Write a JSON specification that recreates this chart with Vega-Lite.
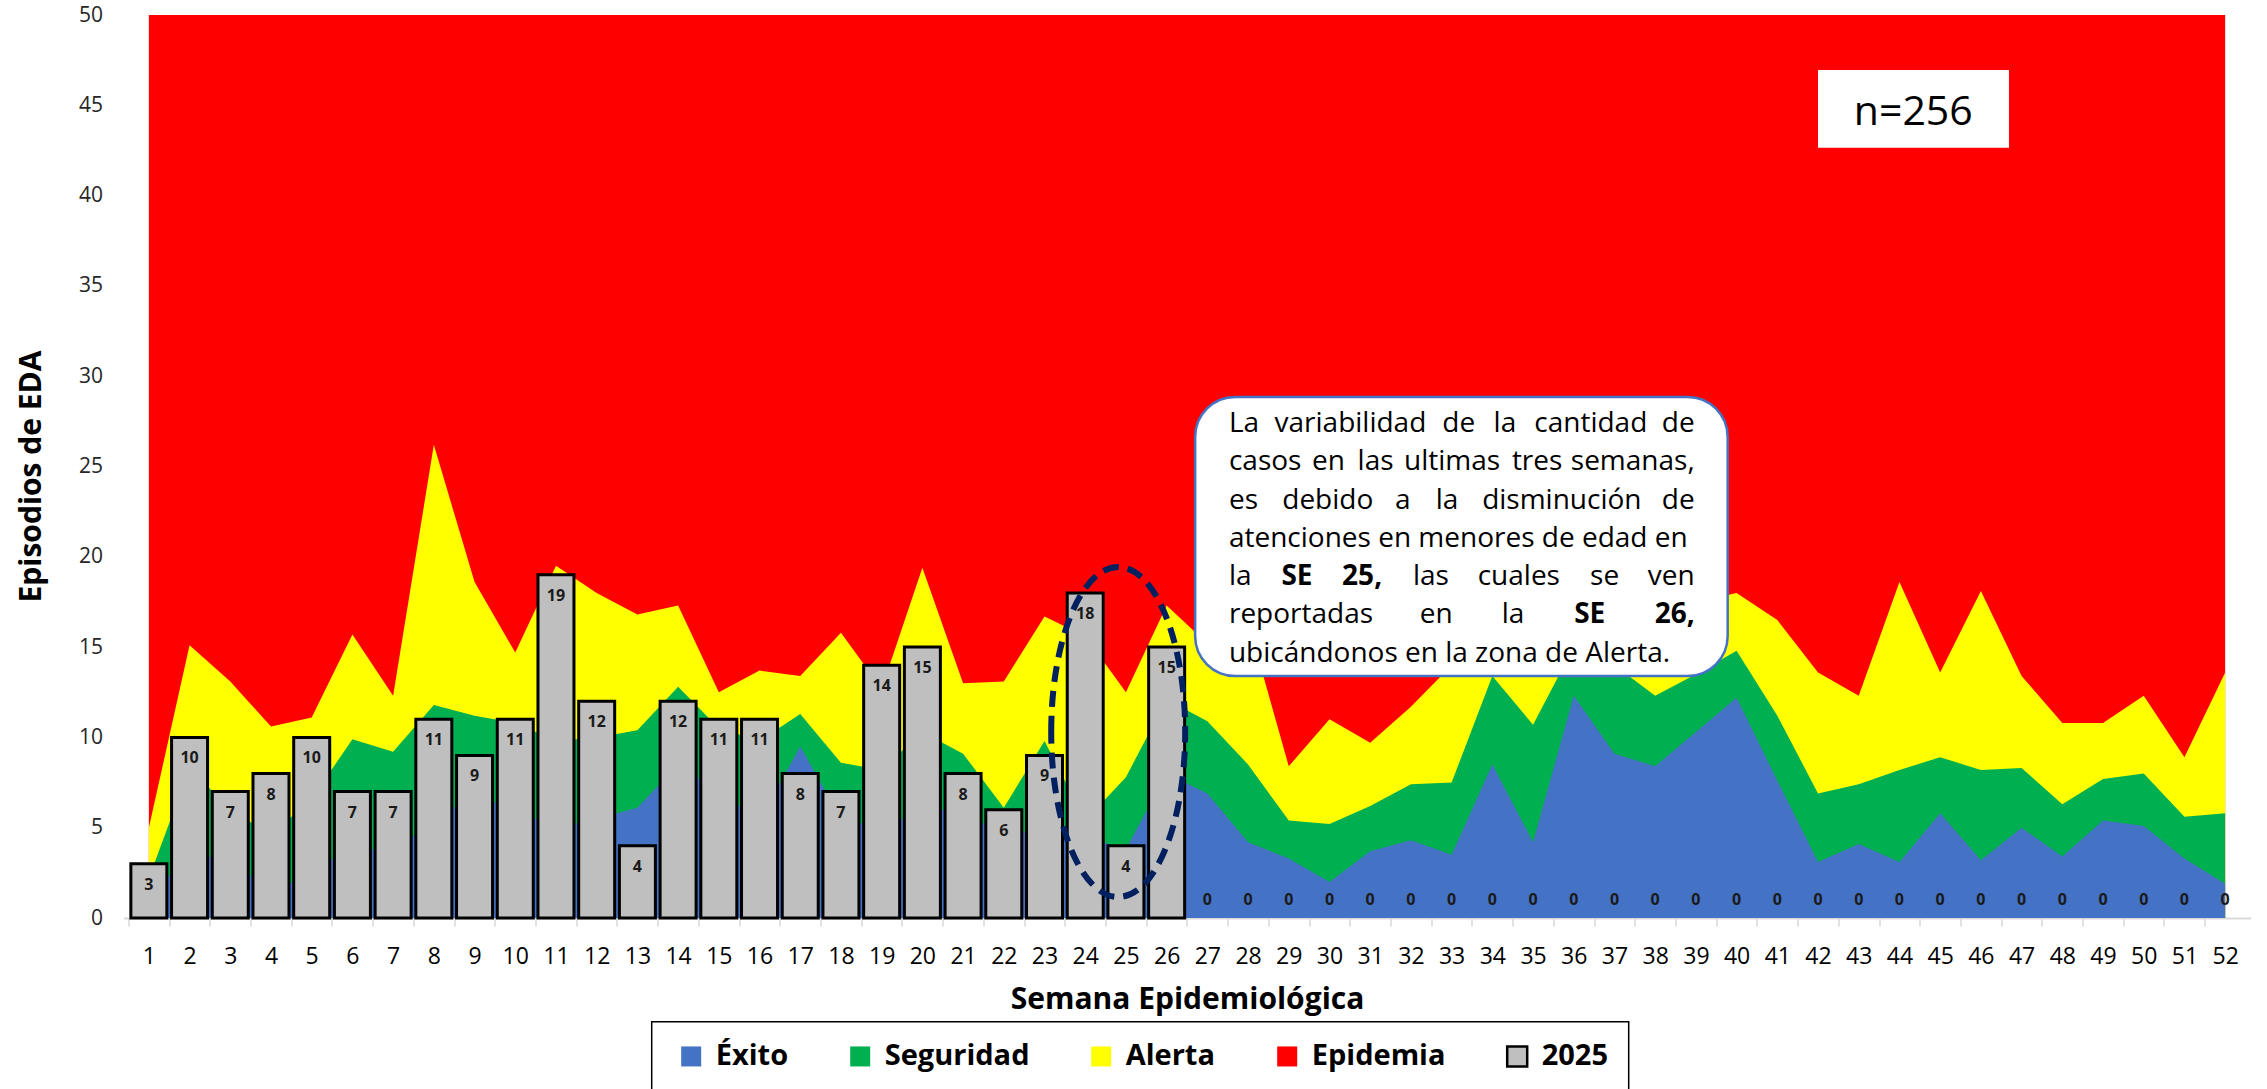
{
  "$schema": "https://vega.github.io/schema/vega-lite/v6.json",
  "width": 2127,
  "height": 903,
  "autosize": {"type": "none"},
  "padding": {"left": 123.5, "top": 15, "right": 16.5, "bottom": 171},
  "background": "white",
  "config": {
    "view": {"stroke": null},
    "font": "Open Sans",
    "axis": {"labelFont": "Open Sans", "titleFont": "Open Sans"},
    "legend": {"labelFont": "Open Sans", "titleFont": "Open Sans"},
    "text": {"fontSize": 28, "color": "black", "baseline": "alphabetic", "align": "left"}
  },
  "data": {
    "values": [
      {"semana": 1, "exito": 1.2, "seguridad": 2.2, "alerta": 5.0, "epidemia": 50, "casos": 3},
      {"semana": 2, "exito": 3.5, "seguridad": 8.3, "alerta": 15.1, "epidemia": 50, "casos": 10},
      {"semana": 3, "exito": 3.3, "seguridad": 6.0, "alerta": 13.1, "epidemia": 50, "casos": 7},
      {"semana": 4, "exito": 1.4, "seguridad": 4.6, "alerta": 10.6, "epidemia": 50, "casos": 8},
      {"semana": 5, "exito": 2.5, "seguridad": 6.6, "alerta": 11.1, "epidemia": 50, "casos": 10},
      {"semana": 6, "exito": 4.0, "seguridad": 9.9, "alerta": 15.7, "epidemia": 50, "casos": 7},
      {"semana": 7, "exito": 3.6, "seguridad": 9.2, "alerta": 12.3, "epidemia": 50, "casos": 7},
      {"semana": 8, "exito": 5.5, "seguridad": 11.8, "alerta": 26.2, "epidemia": 50, "casos": 11},
      {"semana": 9, "exito": 6.8, "seguridad": 11.2, "alerta": 18.6, "epidemia": 50, "casos": 9},
      {"semana": 10, "exito": 6.0, "seguridad": 10.8, "alerta": 14.7, "epidemia": 50, "casos": 11},
      {"semana": 11, "exito": 5.0, "seguridad": 9.8, "alerta": 19.5, "epidemia": 50, "casos": 19},
      {"semana": 12, "exito": 5.5, "seguridad": 10.0, "alerta": 18.0, "epidemia": 50, "casos": 12},
      {"semana": 13, "exito": 6.1, "seguridad": 10.4, "alerta": 16.8, "epidemia": 50, "casos": 4},
      {"semana": 14, "exito": 8.5, "seguridad": 12.8, "alerta": 17.3, "epidemia": 50, "casos": 12},
      {"semana": 15, "exito": 7.0, "seguridad": 10.5, "alerta": 12.5, "epidemia": 50, "casos": 11},
      {"semana": 16, "exito": 5.4, "seguridad": 9.8, "alerta": 13.7, "epidemia": 50, "casos": 11},
      {"semana": 17, "exito": 9.5, "seguridad": 11.3, "alerta": 13.4, "epidemia": 50, "casos": 8},
      {"semana": 18, "exito": 5.5, "seguridad": 8.6, "alerta": 15.8, "epidemia": 50, "casos": 7},
      {"semana": 19, "exito": 5.0, "seguridad": 8.2, "alerta": 12.7, "epidemia": 50, "casos": 14},
      {"semana": 20, "exito": 6.0, "seguridad": 10.3, "alerta": 19.4, "epidemia": 50, "casos": 15},
      {"semana": 21, "exito": 6.0, "seguridad": 9.1, "alerta": 13.0, "epidemia": 50, "casos": 8},
      {"semana": 22, "exito": 4.5, "seguridad": 6.1, "alerta": 13.1, "epidemia": 50, "casos": 6},
      {"semana": 23, "exito": 5.0, "seguridad": 9.8, "alerta": 16.7, "epidemia": 50, "casos": 9},
      {"semana": 24, "exito": 4.5, "seguridad": 5.4, "alerta": 15.6, "epidemia": 50, "casos": 18},
      {"semana": 25, "exito": 3.8, "seguridad": 7.8, "alerta": 12.5, "epidemia": 50, "casos": 4},
      {"semana": 26, "exito": 8.0, "seguridad": 12.1, "alerta": 17.3, "epidemia": 50, "casos": 15},
      {"semana": 27, "exito": 6.9, "seguridad": 10.9, "alerta": 15.2, "epidemia": 50, "casos": 0},
      {"semana": 28, "exito": 4.2, "seguridad": 8.5, "alerta": 16.4, "epidemia": 50, "casos": 0},
      {"semana": 29, "exito": 3.3, "seguridad": 5.4, "alerta": 8.4, "epidemia": 50, "casos": 0},
      {"semana": 30, "exito": 2.0, "seguridad": 5.2, "alerta": 11.0, "epidemia": 50, "casos": 0},
      {"semana": 31, "exito": 3.7, "seguridad": 6.2, "alerta": 9.7, "epidemia": 50, "casos": 0},
      {"semana": 32, "exito": 4.3, "seguridad": 7.4, "alerta": 11.7, "epidemia": 50, "casos": 0},
      {"semana": 33, "exito": 3.5, "seguridad": 7.5, "alerta": 14.0, "epidemia": 50, "casos": 0},
      {"semana": 34, "exito": 8.5, "seguridad": 13.4, "alerta": 17.0, "epidemia": 50, "casos": 0},
      {"semana": 35, "exito": 4.2, "seguridad": 10.7, "alerta": 15.0, "epidemia": 50, "casos": 0},
      {"semana": 36, "exito": 12.3, "seguridad": 15.0, "alerta": 19.0, "epidemia": 50, "casos": 0},
      {"semana": 37, "exito": 9.1, "seguridad": 14.0, "alerta": 18.0, "epidemia": 50, "casos": 0},
      {"semana": 38, "exito": 8.4, "seguridad": 12.3, "alerta": 16.5, "epidemia": 50, "casos": 0},
      {"semana": 39, "exito": 10.3, "seguridad": 13.5, "alerta": 17.5, "epidemia": 50, "casos": 0},
      {"semana": 40, "exito": 12.2, "seguridad": 14.8, "alerta": 18.0, "epidemia": 50, "casos": 0},
      {"semana": 41, "exito": 7.6, "seguridad": 11.2, "alerta": 16.5, "epidemia": 50, "casos": 0},
      {"semana": 42, "exito": 3.1, "seguridad": 6.9, "alerta": 13.6, "epidemia": 50, "casos": 0},
      {"semana": 43, "exito": 4.1, "seguridad": 7.4, "alerta": 12.3, "epidemia": 50, "casos": 0},
      {"semana": 44, "exito": 3.1, "seguridad": 8.2, "alerta": 18.6, "epidemia": 50, "casos": 0},
      {"semana": 45, "exito": 5.8, "seguridad": 8.9, "alerta": 13.6, "epidemia": 50, "casos": 0},
      {"semana": 46, "exito": 3.2, "seguridad": 8.2, "alerta": 18.1, "epidemia": 50, "casos": 0},
      {"semana": 47, "exito": 5.0, "seguridad": 8.3, "alerta": 13.4, "epidemia": 50, "casos": 0},
      {"semana": 48, "exito": 3.4, "seguridad": 6.3, "alerta": 10.8, "epidemia": 50, "casos": 0},
      {"semana": 49, "exito": 5.4, "seguridad": 7.7, "alerta": 10.8, "epidemia": 50, "casos": 0},
      {"semana": 50, "exito": 5.1, "seguridad": 8.0, "alerta": 12.3, "epidemia": 50, "casos": 0},
      {"semana": 51, "exito": 3.3, "seguridad": 5.6, "alerta": 8.9, "epidemia": 50, "casos": 0},
      {"semana": 52, "exito": 1.9, "seguridad": 5.8, "alerta": 13.6, "epidemia": 50, "casos": 0}
    ]
  },
  "layer": [
    {
      "mark": {"type": "area", "interpolate": "linear"},
      "encoding": {
        "x": {
          "field": "semana", "type": "quantitative",
          "scale": {"domain": [0.5, 52.5], "nice": false, "zero": false},
          "title": "Semana Epidemiológica",
          "axis": {
            "values": [1,2,3,4,5,6,7,8,9,10,11,12,13,14,15,16,17,18,19,20,21,22,23,24,25,26,27,28,29,30,31,32,33,34,35,36,37,38,39,40,41,42,43,44,45,46,47,48,49,50,51,52],
            "grid": false,
            "tickOffset": -20.45, "labelOffset": 20.45,
            "tickColor": "#D9D9D9", "tickSize": 8, "tickWidth": 1.5,
            "domainColor": "#D9D9D9", "domainWidth": 2,
            "labelFontSize": 23, "labelColor": "black", "labelPadding": 19,
            "labelFlush": false, "labelOverlap": false,
            "titleFontSize": 30, "titleFontWeight": "bold", "titleColor": "black",
            "titleBaseline": "alphabetic", "titleY": 90
          }
        },
        "y": {
          "field": "epidemia", "type": "quantitative", "stack": null,
          "scale": {"domain": [0, 50], "nice": false},
          "title": "Episodios de EDA",
          "axis": {
            "values": [0,5,10,15,20,25,30,35,40,45,50],
            "grid": false, "ticks": false, "domain": false,
            "labelFontSize": 21, "labelColor": "#262626", "labelPadding": 21,
            "titleFontSize": 30, "titleFontWeight": "bold", "titleColor": "black",
            "titleX": -92, "titleY": 461, "titleAngle": -90,
            "titleBaseline": "middle", "titleAlign": "center"
          }
        },
        "fill": {
          "datum": "Epidemia", "type": "nominal",
          "scale": {
            "domain": ["Éxito", "Seguridad", "Alerta", "Epidemia", "2025"],
            "range": ["#4472C4", "#00B050", "#FFFF00", "#FF0000", "#BFBFBF"]
          },
          "legend": {
            "orient": "none", "legendX": 528.2, "legendY": 1006.7,
            "direction": "horizontal", "columns": 5, "columnPadding": 56,
            "symbolType": "square", "symbolSize": 400,
            "labelFontSize": 29, "labelFontWeight": "bold", "labelColor": "black",
            "labelOffset": 10, "padding": 20,
            "strokeColor": "black",
            "title": "\u2003", "titleOrient": "left", "titleFontSize": 30, "titlePadding": 5,
            "labelExpr": "datum.label == '2025' ? '2025\u2003' : datum.label",
            "encode": {
              "symbols": {
                "update": {
                  "stroke": {"signal": "datum.value === '2025' ? 'black' : 'transparent'"},
                  "strokeWidth": {"value": 2.5}
                }
              },
              "legend": {"update": {"strokeWidth": {"value": 1.5}}}
            }
          }
        }
      }
    },
    {
      "mark": {"type": "area", "interpolate": "linear"},
      "encoding": {
        "x": {"field": "semana", "type": "quantitative", "title": "Semana Epidemiológica"},
        "y": {"field": "alerta", "type": "quantitative", "stack": null, "title": "Episodios de EDA"},
        "fill": {"datum": "Alerta", "type": "nominal"}
      }
    },
    {
      "mark": {"type": "area", "interpolate": "linear"},
      "encoding": {
        "x": {"field": "semana", "type": "quantitative", "title": "Semana Epidemiológica"},
        "y": {"field": "seguridad", "type": "quantitative", "stack": null, "title": "Episodios de EDA"},
        "fill": {"datum": "Seguridad", "type": "nominal"}
      }
    },
    {
      "mark": {"type": "area", "interpolate": "linear"},
      "encoding": {
        "x": {"field": "semana", "type": "quantitative", "title": "Semana Epidemiológica"},
        "y": {"field": "exito", "type": "quantitative", "stack": null, "title": "Episodios de EDA"},
        "fill": {"datum": "Éxito", "type": "nominal"}
      }
    },
    {
      "transform": [{"filter": "datum.casos > 0"}],
      "mark": {"type": "bar", "width": 36, "stroke": "black", "strokeWidth": 3},
      "encoding": {
        "x": {"field": "semana", "type": "quantitative", "title": "Semana Epidemiológica"},
        "y": {"field": "casos", "type": "quantitative", "title": "Episodios de EDA"},
        "fill": {"datum": "2025", "type": "nominal"}
      }
    },
    {
      "transform": [{"filter": "datum.casos > 0"}],
      "mark": {"type": "text", "dy": 21, "baseline": "middle", "align": "center", "fontSize": 16, "fontWeight": "bold", "color": "#1a1a1a"},
      "encoding": {
        "x": {"field": "semana", "type": "quantitative", "title": "Semana Epidemiológica"},
        "y": {"field": "casos", "type": "quantitative", "title": "Episodios de EDA"},
        "text": {"field": "casos", "type": "quantitative"}
      }
    },
    {
      "transform": [{"filter": "datum.casos == 0"}],
      "mark": {"type": "text", "dy": -17.6, "baseline": "middle", "align": "center", "fontSize": 16, "fontWeight": "bold", "color": "#1a1a1a"},
      "encoding": {
        "x": {"field": "semana", "type": "quantitative", "title": "Semana Epidemiológica"},
        "y": {"field": "casos", "type": "quantitative", "title": "Episodios de EDA"},
        "text": {"field": "casos", "type": "quantitative"}
      }
    },
    {
      "data": {"values": [{}]},
      "mark": {"type": "point", "shape": "M -0.406 0 A 0.406 1 0 1 1 0.406 0 A 0.406 1 0 1 1 -0.406 0 Z", "size": 108900, "filled": false, "stroke": "#002060", "strokeWidth": 6, "strokeDash": [16, 9], "opacity": 1},
      "encoding": {
        "x": {"datum": 24.81, "type": "quantitative", "title": "Semana Epidemiológica"},
        "y": {"datum": 10.3, "type": "quantitative", "title": "Episodios de EDA"}
      }
    },
    {
      "data": {"values": [{}]},
      "mark": {"type": "rect", "fill": "white", "stroke": "#4472C4", "strokeWidth": 2.5, "cornerRadius": 40},
      "encoding": {
        "x": {"datum": 26.7, "type": "quantitative", "title": "Semana Epidemiológica"},
        "x2": {"datum": 39.78},
        "y": {"datum": 28.85, "type": "quantitative", "title": "Episodios de EDA"},
        "y2": {"datum": 13.4}
      }
    },
    {"data": {"values": [{}]}, "mark": {"type": "text"}, "encoding": {"x": {"datum": 27.53, "type": "quantitative", "title": "Semana Epidemiológica"}, "y": {"datum": 26.91, "type": "quantitative", "title": "Episodios de EDA"}, "text": {"value": "La"}}},
    {"data": {"values": [{}]}, "mark": {"type": "text"}, "encoding": {"x": {"datum": 28.65, "type": "quantitative", "title": "Semana Epidemiológica"}, "y": {"datum": 26.91, "type": "quantitative", "title": "Episodios de EDA"}, "text": {"value": "variabilidad"}}},
    {"data": {"values": [{}]}, "mark": {"type": "text"}, "encoding": {"x": {"datum": 32.77, "type": "quantitative", "title": "Semana Epidemiológica"}, "y": {"datum": 26.91, "type": "quantitative", "title": "Episodios de EDA"}, "text": {"value": "de"}}},
    {"data": {"values": [{}]}, "mark": {"type": "text"}, "encoding": {"x": {"datum": 34.03, "type": "quantitative", "title": "Semana Epidemiológica"}, "y": {"datum": 26.91, "type": "quantitative", "title": "Episodios de EDA"}, "text": {"value": "la"}}},
    {"data": {"values": [{}]}, "mark": {"type": "text"}, "encoding": {"x": {"datum": 35.03, "type": "quantitative", "title": "Semana Epidemiológica"}, "y": {"datum": 26.91, "type": "quantitative", "title": "Episodios de EDA"}, "text": {"value": "cantidad"}}},
    {"data": {"values": [{}]}, "mark": {"type": "text", "align": "right"}, "encoding": {"x": {"datum": 38.97, "type": "quantitative", "title": "Semana Epidemiológica"}, "y": {"datum": 26.91, "type": "quantitative", "title": "Episodios de EDA"}, "text": {"value": "de"}}},

    {"data": {"values": [{}]}, "mark": {"type": "text"}, "encoding": {"x": {"datum": 27.53, "type": "quantitative", "title": "Semana Epidemiológica"}, "y": {"datum": 24.79, "type": "quantitative", "title": "Episodios de EDA"}, "text": {"value": "casos"}}},
    {"data": {"values": [{}]}, "mark": {"type": "text"}, "encoding": {"x": {"datum": 29.57, "type": "quantitative", "title": "Semana Epidemiológica"}, "y": {"datum": 24.79, "type": "quantitative", "title": "Episodios de EDA"}, "text": {"value": "en"}}},
    {"data": {"values": [{}]}, "mark": {"type": "text"}, "encoding": {"x": {"datum": 30.69, "type": "quantitative", "title": "Semana Epidemiológica"}, "y": {"datum": 24.79, "type": "quantitative", "title": "Episodios de EDA"}, "text": {"value": "las"}}},
    {"data": {"values": [{}]}, "mark": {"type": "text"}, "encoding": {"x": {"datum": 31.83, "type": "quantitative", "title": "Semana Epidemiológica"}, "y": {"datum": 24.79, "type": "quantitative", "title": "Episodios de EDA"}, "text": {"value": "ultimas"}}},
    {"data": {"values": [{}]}, "mark": {"type": "text"}, "encoding": {"x": {"datum": 34.48, "type": "quantitative", "title": "Semana Epidemiológica"}, "y": {"datum": 24.79, "type": "quantitative", "title": "Episodios de EDA"}, "text": {"value": "tres"}}},
    {"data": {"values": [{}]}, "mark": {"type": "text", "align": "right"}, "encoding": {"x": {"datum": 38.97, "type": "quantitative", "title": "Semana Epidemiológica"}, "y": {"datum": 24.79, "type": "quantitative", "title": "Episodios de EDA"}, "text": {"value": "semanas,"}}},

    {"data": {"values": [{}]}, "mark": {"type": "text"}, "encoding": {"x": {"datum": 27.53, "type": "quantitative", "title": "Semana Epidemiológica"}, "y": {"datum": 22.67, "type": "quantitative", "title": "Episodios de EDA"}, "text": {"value": "es"}}},
    {"data": {"values": [{}]}, "mark": {"type": "text"}, "encoding": {"x": {"datum": 28.84, "type": "quantitative", "title": "Semana Epidemiológica"}, "y": {"datum": 22.67, "type": "quantitative", "title": "Episodios de EDA"}, "text": {"value": "debido"}}},
    {"data": {"values": [{}]}, "mark": {"type": "text"}, "encoding": {"x": {"datum": 31.61, "type": "quantitative", "title": "Semana Epidemiológica"}, "y": {"datum": 22.67, "type": "quantitative", "title": "Episodios de EDA"}, "text": {"value": "a"}}},
    {"data": {"values": [{}]}, "mark": {"type": "text"}, "encoding": {"x": {"datum": 32.61, "type": "quantitative", "title": "Semana Epidemiológica"}, "y": {"datum": 22.67, "type": "quantitative", "title": "Episodios de EDA"}, "text": {"value": "la"}}},
    {"data": {"values": [{}]}, "mark": {"type": "text"}, "encoding": {"x": {"datum": 33.75, "type": "quantitative", "title": "Semana Epidemiológica"}, "y": {"datum": 22.67, "type": "quantitative", "title": "Episodios de EDA"}, "text": {"value": "disminución"}}},
    {"data": {"values": [{}]}, "mark": {"type": "text", "align": "right"}, "encoding": {"x": {"datum": 38.97, "type": "quantitative", "title": "Semana Epidemiológica"}, "y": {"datum": 22.67, "type": "quantitative", "title": "Episodios de EDA"}, "text": {"value": "de"}}},

    {"data": {"values": [{}]}, "mark": {"type": "text"}, "encoding": {"x": {"datum": 27.53, "type": "quantitative", "title": "Semana Epidemiológica"}, "y": {"datum": 20.55, "type": "quantitative", "title": "Episodios de EDA"}, "text": {"value": "atenciones en menores de edad en"}}},

    {"data": {"values": [{}]}, "mark": {"type": "text"}, "encoding": {"x": {"datum": 27.53, "type": "quantitative", "title": "Semana Epidemiológica"}, "y": {"datum": 18.43, "type": "quantitative", "title": "Episodios de EDA"}, "text": {"value": "la"}}},
    {"data": {"values": [{}]}, "mark": {"type": "text", "fontWeight": "bold"}, "encoding": {"x": {"datum": 28.82, "type": "quantitative", "title": "Semana Epidemiológica"}, "y": {"datum": 18.43, "type": "quantitative", "title": "Episodios de EDA"}, "text": {"value": "SE"}}},
    {"data": {"values": [{}]}, "mark": {"type": "text", "fontWeight": "bold"}, "encoding": {"x": {"datum": 30.31, "type": "quantitative", "title": "Semana Epidemiológica"}, "y": {"datum": 18.43, "type": "quantitative", "title": "Episodios de EDA"}, "text": {"value": "25,"}}},
    {"data": {"values": [{}]}, "mark": {"type": "text"}, "encoding": {"x": {"datum": 32.05, "type": "quantitative", "title": "Semana Epidemiológica"}, "y": {"datum": 18.43, "type": "quantitative", "title": "Episodios de EDA"}, "text": {"value": "las"}}},
    {"data": {"values": [{}]}, "mark": {"type": "text"}, "encoding": {"x": {"datum": 33.64, "type": "quantitative", "title": "Semana Epidemiológica"}, "y": {"datum": 18.43, "type": "quantitative", "title": "Episodios de EDA"}, "text": {"value": "cuales"}}},
    {"data": {"values": [{}]}, "mark": {"type": "text"}, "encoding": {"x": {"datum": 36.4, "type": "quantitative", "title": "Semana Epidemiológica"}, "y": {"datum": 18.43, "type": "quantitative", "title": "Episodios de EDA"}, "text": {"value": "se"}}},
    {"data": {"values": [{}]}, "mark": {"type": "text", "align": "right"}, "encoding": {"x": {"datum": 38.97, "type": "quantitative", "title": "Semana Epidemiológica"}, "y": {"datum": 18.43, "type": "quantitative", "title": "Episodios de EDA"}, "text": {"value": "ven"}}},

    {"data": {"values": [{}]}, "mark": {"type": "text"}, "encoding": {"x": {"datum": 27.53, "type": "quantitative", "title": "Semana Epidemiológica"}, "y": {"datum": 16.31, "type": "quantitative", "title": "Episodios de EDA"}, "text": {"value": "reportadas"}}},
    {"data": {"values": [{}]}, "mark": {"type": "text"}, "encoding": {"x": {"datum": 32.22, "type": "quantitative", "title": "Semana Epidemiológica"}, "y": {"datum": 16.31, "type": "quantitative", "title": "Episodios de EDA"}, "text": {"value": "en"}}},
    {"data": {"values": [{}]}, "mark": {"type": "text"}, "encoding": {"x": {"datum": 34.23, "type": "quantitative", "title": "Semana Epidemiológica"}, "y": {"datum": 16.31, "type": "quantitative", "title": "Episodios de EDA"}, "text": {"value": "la"}}},
    {"data": {"values": [{}]}, "mark": {"type": "text", "fontWeight": "bold"}, "encoding": {"x": {"datum": 36.01, "type": "quantitative", "title": "Semana Epidemiológica"}, "y": {"datum": 16.31, "type": "quantitative", "title": "Episodios de EDA"}, "text": {"value": "SE"}}},
    {"data": {"values": [{}]}, "mark": {"type": "text", "align": "right", "fontWeight": "bold"}, "encoding": {"x": {"datum": 38.97, "type": "quantitative", "title": "Semana Epidemiológica"}, "y": {"datum": 16.31, "type": "quantitative", "title": "Episodios de EDA"}, "text": {"value": "26,"}}},

    {"data": {"values": [{}]}, "mark": {"type": "text"}, "encoding": {"x": {"datum": 27.53, "type": "quantitative", "title": "Semana Epidemiológica"}, "y": {"datum": 14.19, "type": "quantitative", "title": "Episodios de EDA"}, "text": {"value": "ubicándonos en la zona de Alerta."}}},

    {
      "data": {"values": [{}]},
      "mark": {"type": "rect", "fill": "white"},
      "encoding": {
        "x": {"datum": 42.0, "type": "quantitative", "title": "Semana Epidemiológica"},
        "x2": {"datum": 46.69},
        "y": {"datum": 46.95, "type": "quantitative", "title": "Episodios de EDA"},
        "y2": {"datum": 42.65}
      }
    },
    {
      "data": {"values": [{}]},
      "mark": {"type": "text", "align": "center", "baseline": "alphabetic", "fontSize": 41, "color": "black"},
      "encoding": {
        "x": {"datum": 44.34, "type": "quantitative", "title": "Semana Epidemiológica"},
        "y": {"datum": 43.91, "type": "quantitative", "title": "Episodios de EDA"},
        "text": {"value": "n=256"}
      }
    }
  ]
}
